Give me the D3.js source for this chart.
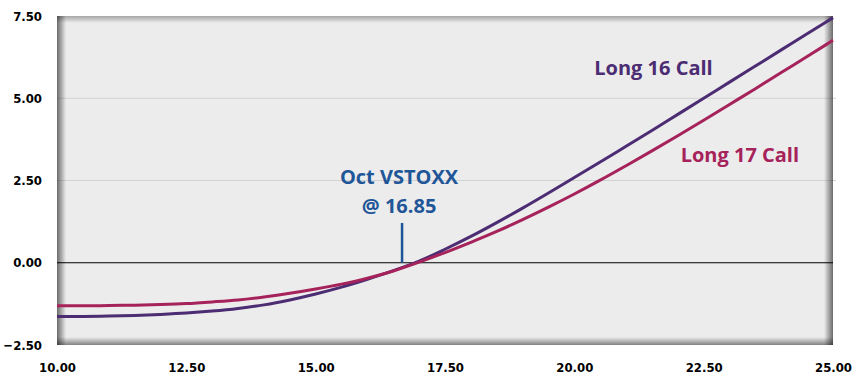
<!DOCTYPE html>
<html>
<head>
<meta charset="utf-8">
<script src="https://cdn.jsdelivr.net/npm/d3@7/dist/d3.min.js"></script>
<style>
  html, body { margin: 0; padding: 0; background: #fff; }
  svg { display: block; }
</style>
</head>
<body>
<svg id="chart" width="864" height="384"></svg>
<script>
// underlying price (VSTOXX)
var prices = [10, 10.5, 11, 11.5, 12, 12.5, 13, 13.5, 14, 14.5, 15, 15.5, 16, 16.5,
              17, 17.5, 18, 18.5, 19, 19.5, 20, 20.5, 21, 21.5, 22, 22.5, 23, 23.5, 24, 24.5, 25];

// profit / loss for each position
var long16 = [-1.63, -1.63, -1.62, -1.60, -1.57, -1.53, -1.47, -1.39, -1.28, -1.13, -0.95, -0.74, -0.50, -0.24,
              0.05, 0.41, 0.80, 1.22, 1.66, 2.12, 2.59, 3.06, 3.54, 4.02, 4.51, 5.00, 5.49, 5.98, 6.47, 6.96, 7.45];
var long17 = [-1.31, -1.31, -1.30, -1.29, -1.27, -1.24, -1.19, -1.13, -1.04, -0.93, -0.80, -0.65, -0.47, -0.25,
              0.02, 0.31, 0.62, 0.95, 1.31, 1.69, 2.09, 2.51, 2.95, 3.40, 3.86, 4.33, 4.81, 5.29, 5.78, 6.27, 6.76];

var xTicks = [10, 12.5, 15, 17.5, 20, 22.5, 25];
var yTicks = [-2.5, 0, 2.5, 5, 7.5];
var gridLines = [2.5, 5];

var seriesNames = ["Long 16 Call", "Long 17 Call"];
var seriesColors = ["#4c2c72", "#a6225a"];
var labelPos = [[21.53, 5.72], [23.2, 3.07]];   // [price, value] of label baseline centre

var markerPrice = 16.67;   // where the "@ 16.85" tick sits in the picture
var markerText = ["Oct VSTOXX", "@ 16.85"];

var svg = d3.select("#chart");
var pL = 57, pR = 833, pT = 16, pB = 345;

var x = d3.scaleLinear().domain([10, 25]).range([pL, pR]);
var y = d3.scaleLinear().domain([-2.5, 7.5]).range([pB, pT]);

var defs = svg.append("defs");
function edgeGrad(id, x1, y1, x2, y2, op) {
    var g = defs.append("linearGradient").attr("id", id)
        .attr("x1", x1).attr("y1", y1).attr("x2", x2).attr("y2", y2);
    g.append("stop").attr("offset", "0%").attr("stop-color", "#000").attr("stop-opacity", op);
    g.append("stop").attr("offset", "100%").attr("stop-color", "#000").attr("stop-opacity", 0);
}
edgeGrad("gl", "0", "0", "1", "0", 0.55);
edgeGrad("gr", "1", "0", "0", "0", 0.55);
edgeGrad("gb", "0", "1", "0", "0", 0.45);
edgeGrad("gt", "0", "0", "0", "1", 0.3);

// plot background
svg.append("rect")
    .attr("x", pL).attr("y", pT)
    .attr("width", pR - pL).attr("height", pB - pT)
    .attr("fill", "#ececec");

// grid
svg.selectAll(".grid").data(gridLines).enter().append("line")
    .attr("class", "grid")
    .attr("x1", pL).attr("x2", pR + 3)
    .attr("y1", function(d) { return y(d); })
    .attr("y2", function(d) { return y(d); })
    .attr("stroke", "#d2d2d2").attr("stroke-width", 1);

// inner shadow on the edges
svg.append("rect").attr("x", pL).attr("y", pT).attr("width", 9).attr("height", pB - pT).attr("fill", "url(#gl)");
svg.append("rect").attr("x", pR - 9).attr("y", pT).attr("width", 9).attr("height", pB - pT).attr("fill", "url(#gr)");
svg.append("rect").attr("x", pL).attr("y", pB - 8).attr("width", pR - pL).attr("height", 8).attr("fill", "url(#gb)");
svg.append("rect").attr("x", pL).attr("y", pT).attr("width", pR - pL).attr("height", 7).attr("fill", "url(#gt)");

// zero line
svg.append("line")
    .attr("x1", pL).attr("x2", pR)
    .attr("y1", y(0)).attr("y2", y(0))
    .attr("stroke", "#000").attr("stroke-width", 1);

// axes (labels only)
var tickFont = "'DejaVu Sans Condensed', 'DejaVu Sans', sans-serif";
var yAxis = d3.axisLeft(y).tickValues(yTicks).tickFormat(d3.format(".2f")).tickSize(0).tickPadding(15);
var xAxis = d3.axisBottom(x).tickValues(xTicks).tickFormat(d3.format(".2f")).tickSize(0).tickPadding(18);

var gy = svg.append("g").attr("transform", "translate(" + pL + ",0)").call(yAxis);
var gx = svg.append("g").attr("transform", "translate(0," + pB + ")").call(xAxis);
[gx, gy].forEach(function(g) {
    g.select(".domain").remove();
    g.selectAll("text")
        .attr("font-family", tickFont)
        .attr("font-weight", "bold")
        .attr("font-size", 13)
        .attr("fill", "#000");
});

// lines
var line = d3.line()
    .x(function(d) { return x(d[0]); })
    .y(function(d) { return y(d[1]); })
    .curve(d3.curveMonotoneX);

[long16, long17].forEach(function(vals, i) {
    svg.append("path")
        .datum(prices.map(function(p, j) { return [p, vals[j]]; }))
        .attr("d", line)
        .attr("fill", "none")
        .attr("stroke", seriesColors[i])
        .attr("stroke-width", 3);
});

// series labels
var labelFont = "'Open Sans', 'Noto Sans', sans-serif";
seriesNames.forEach(function(name, i) {
    svg.append("text")
        .attr("x", x(labelPos[i][0])).attr("y", y(labelPos[i][1]))
        .attr("text-anchor", "middle")
        .attr("font-family", labelFont).attr("font-weight", "bold")
        .attr("font-size", 20)
        .attr("fill", seriesColors[i])
        .text(name);
});

// VSTOXX marker
var blue = "#1f5698";
svg.append("line")
    .attr("x1", x(markerPrice)).attr("x2", x(markerPrice))
    .attr("y1", y(1.21)).attr("y2", y(0))
    .attr("stroke", blue).attr("stroke-width", 2.5);
markerText.forEach(function(t, i) {
    svg.append("text")
        .attr("x", x(markerPrice) - 3).attr("y", y(2.4) + i * 29)
        .attr("text-anchor", "middle")
        .attr("font-family", labelFont).attr("font-weight", "bold")
        .attr("font-size", 20)
        .attr("fill", blue)
        .text(t);
});
</script>
</body>
</html>
